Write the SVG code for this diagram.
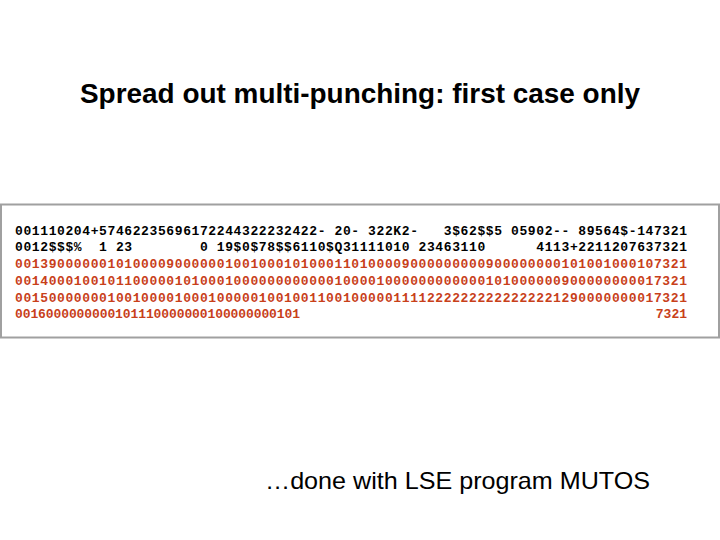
<svg xmlns="http://www.w3.org/2000/svg" width="720" height="540" viewBox="0 0 720 540">
<style>
.c{font-family:"Liberation Mono","DejaVu Sans Mono",monospace;font-size:13px;font-weight:bold;white-space:pre}
.k{fill:#000}.r{fill:#c8401a}
</style>
<rect width="720" height="540" fill="#fff"/>
<text x="360" y="103" text-anchor="middle" font-family="Liberation Sans,Arial,sans-serif" font-size="27" font-weight="bold" textLength="560" lengthAdjust="spacingAndGlyphs">Spread out multi-punching: first case only</text>
<rect x="1" y="204.5" width="718" height="133" fill="#fff" stroke="#a0a0a0" stroke-width="2"/>
<g xml:space="preserve">
<text class="c k" x="15" y="235" textLength="672" lengthAdjust="spacing">001110204+57462235696172244322232422- 20- 322K2-   3$62$$5 05902-- 89564$-147321</text>
<text class="c k" x="15" y="251" textLength="672" lengthAdjust="spacing">0012$$$%  1 23        0 19$0$78$$6110$Q31111010 23463110      4113+2211207637321</text>
<text class="c r" x="15" y="268" textLength="672" lengthAdjust="spacing">00139000000101000090000001001000101000110100009000000000900000000101001000107321</text>
<text class="c r" x="15" y="285" textLength="672" lengthAdjust="spacing">00140001001011000001010001000000000000100001000000000000101000000900000000017321</text>
<text class="c r" x="15" y="302" textLength="672" lengthAdjust="spacing">00150000000100100001000100000100100110010000011112222222222222221290000000017321</text>
<text class="c r" x="15" y="318" textLength="285" lengthAdjust="spacing">0016000000000101110000000100000000101</text>
<text class="c r" x="687" y="318" text-anchor="end">7321</text>
</g>
<text x="650" y="489" text-anchor="end" font-family="Liberation Sans,Arial,sans-serif" font-size="24" textLength="385" lengthAdjust="spacingAndGlyphs">…done with LSE program MUTOS</text>
</svg>
